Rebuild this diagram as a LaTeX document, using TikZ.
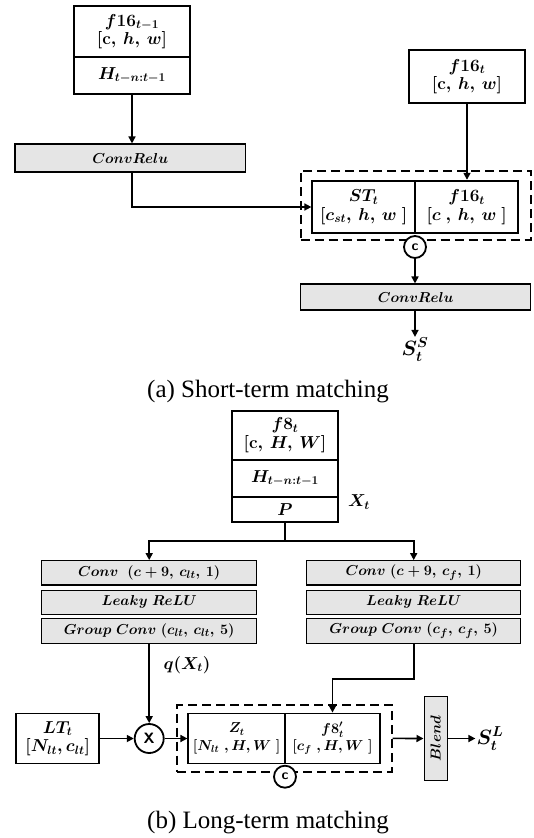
\documentclass[tikz,border=0pt]{standalone}
\usepackage{amsmath}
\usepackage{graphicx}
\usepackage{fontspec}
\newfontfamily\capfont{Liberation Serif}
\usetikzlibrary{arrows.meta}
\begin{document}
\begin{tikzpicture}[x=1pt,y=-1pt,
  box/.style={draw, line width=1.8pt, fill=white, inner sep=0pt, align=center, font=\fontsize{16.5}{18.5}\selectfont\boldmath},
  sbox/.style={box, font=\fontsize{14.4}{17.5}\selectfont\boldmath},
  gbox/.style={draw, line width=1.1pt, fill=black!10, inner sep=0pt, font=\fontsize{15}{16}\selectfont\boldmath},
  arr/.style={line width=1.6pt, -{Triangle[length=7pt,width=7pt]}},
  ln/.style={line width=1.6pt},
  dbox/.style={draw, line width=2pt, dash pattern=on 9pt off 5pt, inner sep=0pt},
  cc/.style={circle, draw, line width=1.8pt, fill=white, inner sep=0pt, minimum size=22pt, font=\sffamily\bfseries\fontsize{14}{14}\selectfont},
  lbl/.style={inner sep=1pt, font=\fontsize{20}{22}\selectfont\boldmath},
  captxt/.style={inner sep=0pt, font=\capfont\fontsize{25}{27}\selectfont}
]
\useasboundingbox (0,0) rectangle (533,838);

% ---------- (a) short-term ----------
\node[box, minimum width=116pt, minimum height=51pt] (fa) at (132,31.5) {$f16_{t-1}$\\$[\mathbf{c},\,h,\,w]$};
\node[box, minimum width=116pt, minimum height=37pt] (ha) at (132,75.5) {$H_{t-n:t-1}$};
\node[gbox, minimum width=230.7pt, minimum height=28pt] (cr1) at (130.3,158) {$ConvRelu$};
\node[box, minimum width=116pt, minimum height=53pt] (ft) at (467,76.5) {$f16_t$\\$[\mathbf{c},\,h,\,w]$};

\node[dbox, minimum width=230pt, minimum height=69.3pt] (da) at (415.7,205.35) {};
\node[box, minimum width=102.7pt, minimum height=52.6pt] (st) at (363.65,207) {$ST_t$\\$[c_{st},\,h,\,w\ ]$};
\node[box, minimum width=103.3pt, minimum height=52.6pt] (fi) at (466.65,207) {$f16_t$\\$[c\ ,\,h,\,w\ ]$};
\node[cc] (ca) at (415,247) {c};
\node[gbox, minimum width=230pt, minimum height=26pt] (cr2) at (415.7,297) {$ConvRelu$};
\node[lbl] (ss) at (415,350) {$S_t^S$};
\node[captxt] (capa) at (268,392) {(a) Short-term matching};

\draw[arr] (ha.south) -- (ha.south |- cr1.north);
\draw[arr] (ha.south |- cr1.south) -- (ha.south |- st.west) -- (st.west);
\draw[arr] (ft.south) -- (ft.south |- fi.north);
\draw[arr] (ca.south) -- (ca.south |- cr2.north);
\draw[arr] (ca.south |- cr2.south) -- (ca.south |- ss.north);

% ---------- (b) long-term ----------
\node[box, minimum width=106.6pt, minimum height=49.3pt] (f8) at (285,435.3) {$f8_t$\\$[\mathbf{c},\,H,\,W]$};
\node[box, minimum width=106.6pt, minimum height=36.7pt] (hb) at (285,478.3) {$H_{t-n:t-1}$};
\node[box, minimum width=106.6pt, minimum height=25pt] (pb) at (285,509.2) {$P$};
\node[lbl, font=\fontsize{18}{20}\selectfont\boldmath] (xt) at (359,502) {$X_t$};

\node[gbox, minimum width=215pt, minimum height=24.3pt] (l1) at (149.2,572.8) {$Conv\ \ (c+9,\,c_{lt},\,1)$};
\node[gbox, minimum width=215pt, minimum height=24.3pt] (l2) at (149.2,602.2) {$Leaky\ ReLU$};
\node[gbox, minimum width=215pt, minimum height=25pt] (l3) at (149.2,630.8) {$Group\ Conv\ (c_{lt},\,c_{lt},\,5)$};
\node[gbox, minimum width=214pt, minimum height=24.3pt] (r1) at (413.7,572.8) {$Conv\ (c+9,\,c_f,\,1)$};
\node[gbox, minimum width=214pt, minimum height=24.3pt] (r2) at (413.7,602.2) {$Leaky\ ReLU$};
\node[gbox, minimum width=214pt, minimum height=25pt] (r3) at (413.7,630.8) {$Group\ Conv\ (c_f,\,c_f,\,5)$};
\node[lbl, font=\fontsize{18}{20}\selectfont\boldmath] (qx) at (187,665) {$q(X_t)$};

\coordinate (sp) at (285,540.7);
\draw[ln] (pb.south) -- (sp);
\draw[arr] (sp) -| (l1.north);
\draw[arr] (sp) -| (r1.north);

\node[box, minimum width=83.3pt, minimum height=50pt] (lt) at (57.7,738.5) {$LT_t$\\$[N_{lt},c_{lt}]$};
\node[cc, minimum size=29pt, font=\sffamily\bfseries\fontsize{15}{15}\selectfont] (xc) at (149.2,738.5) {X};
\node[dbox, minimum width=214.4pt, minimum height=66.7pt] (db) at (284.5,738.4) {};
\node[sbox, minimum width=96.7pt, minimum height=50pt] (zb) at (236.65,738.5) {$Z_t$\\$[N_{lt}\ ,H,W\ ]$};
\node[sbox, minimum width=95pt, minimum height=50pt] (f8p) at (332.5,738.5) {$f8'_t$\\$[c_f\ ,H,W\ ]$};
\node[cc] (cb) at (285,776.7) {c};
\node[gbox, minimum width=23.3pt, minimum height=84pt] (bl) at (435.7,738.5) {\rotatebox{90}{$Blend$}};
\node[lbl] (sl) at (490,738.5) {$S_t^L$};
\node[captxt] (capb) at (268,823) {(b) Long-term matching};

\draw[arr] (l3.south -| xc.north) -- (xc.north);
\draw[arr] (lt.east) -- (xc.west);
\draw[arr] (xc.east) -- (zb.west);
\draw[arr] (r3.south) -- ++(0,35) -| (f8p.north);
\draw[arr] (db.east) -- (bl.west);
\draw[arr] (bl.east) -- (sl.west);
\end{tikzpicture}
\end{document}
